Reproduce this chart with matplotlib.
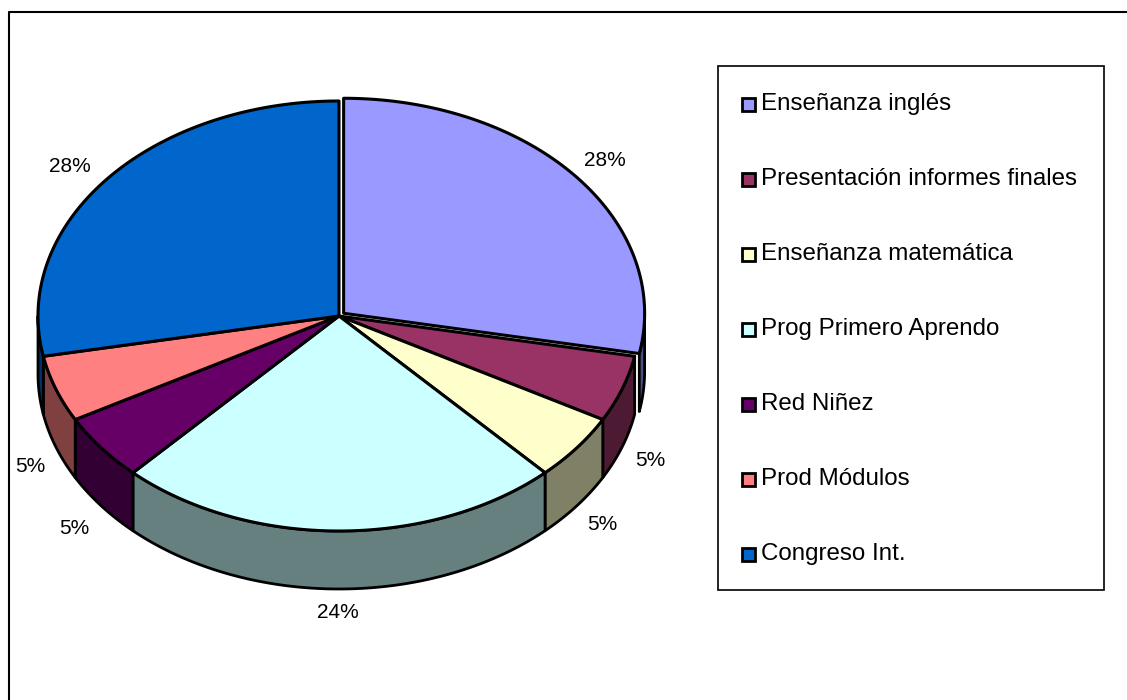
import numpy as np
import matplotlib
matplotlib.use("Agg")
import matplotlib.pyplot as plt
from matplotlib.patches import Polygon, Rectangle

plt.rcParams['font.family'] = ['Liberation Sans', 'DejaVu Sans']

# data
labels = ["Enseñanza inglés", "Presentación informes finales", "Enseñanza matemática",
          "Prog Primero Aprendo", "Red Niñez", "Prod Módulos", "Congreso Int."]
percents = [28, 5, 5, 24, 5, 5, 28]
top_colors = ["#9999FF", "#993366", "#FFFFCC", "#CCFFFF", "#660066", "#FF8080", "#0066CC"]
side_colors = ["#4D4D80", "#4D1A33", "#808066", "#668080", "#330033", "#804040", "#003366"]
explode = [6, 0, 0, 0, 0, 0, 0]

# pie geometry (pixels)
cx, cy = 339, 316
rx, ry = 301, 215
depth = 58

fig = plt.figure(figsize=(11.27, 7), dpi=100)
ax = fig.add_axes([0, 0, 1, 1])
ax.set_xlim(0, 1127)
ax.set_ylim(700, 0)
ax.axis('off')

# chart area border (top and left visible)
ax.plot([9, 9, 1127], [700, 12, 12], color='black', lw=1.5)

fracs = np.array(percents) / sum(percents)
bounds = 90 - 360 * np.concatenate([[0], np.cumsum(fracs)])


def pt(t, dx, dy, dz=0):
    r = np.radians(t)
    return cx + dx + rx * np.cos(r), cy + dy - ry * np.sin(r) + dz


walls = []
tops = []
for i, frac in enumerate(fracs):
    a, b = bounds[i], bounds[i + 1]  # a > b, clockwise
    mid = np.radians((a + b) / 2)
    dx = explode[i] * np.cos(mid)
    dy = -explode[i] * np.sin(mid) * ry / rx
    ts = np.linspace(a, b, 200)
    xs, ys = pt(ts, dx, dy)
    top = [(cx + dx, cy + dy)] + list(zip(xs, ys))
    tops.append(Polygon(top, closed=True, fc=top_colors[i], ec='black', lw=2.2, joinstyle='round', zorder=3))

    # visible part of the outer wall (front half: -180..0)
    lo = max(b, -180)
    hi = min(a, 0)
    if hi > lo:
        tw = np.linspace(hi, lo, 200)
        wx, wy = pt(tw, dx, dy)
        bx, by = pt(tw[::-1], dx, dy, depth)
        wall = list(zip(wx, wy)) + list(zip(bx, by))
        walls.append(Polygon(wall, closed=True, fc=side_colors[i], ec='black', lw=2, joinstyle='round', zorder=2))

for p in walls:
    ax.add_patch(p)
for p in tops:
    ax.add_patch(p)

# percentage labels
lab_pos = [(605, 160), (650, 461), (602, 524), (338, 613), (74, 528), (30, 466), (70, 167)]
for v, (x, y) in zip(percents, lab_pos):
    ax.text(x, y, f"{v}%", ha='center', va='center', fontsize=15)

# legend
ax.add_patch(Rectangle((718, 66), 386, 524, fc='white', ec='black', lw=1.2, zorder=1))
for i, lab in enumerate(labels):
    y = 104 + 75 * i
    ax.add_patch(Rectangle((742, y - 6.5), 13, 13, fc=top_colors[i], ec='black', lw=2, zorder=4))
    ax.text(761, y, lab, ha='left', va='center', fontsize=17.4)

fig.savefig("out.png", dpi=100)
